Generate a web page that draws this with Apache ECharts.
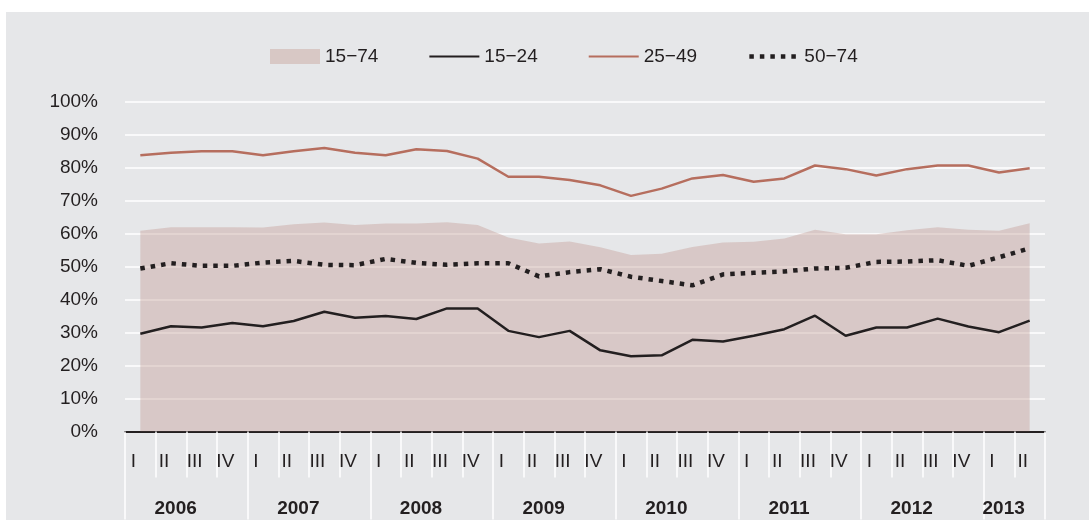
<!DOCTYPE html>
<html>
<head>
<meta charset="utf-8">
<script src="https://cdn.jsdelivr.net/npm/echarts@6/dist/echarts.min.js"></script>
<style>
  html, body { margin: 0; padding: 0; background: #ffffff; }
  #panel { position: absolute; left: 6px; top: 12px; width: 1083px; height: 508px; background: #e6e7e9; }
  #chart { width: 1083px; height: 508px; }
</style>
</head>
<body>
<div id="panel"><div id="chart"></div></div>
<script>
const quarters = [
  'I','II','III','IV', 'I','II','III','IV', 'I','II','III','IV', 'I','II','III','IV',
  'I','II','III','IV', 'I','II','III','IV', 'I','II','III','IV', 'I','II'
]
const years = [
  '2006','2006','2006','2006', '2007','2007','2007','2007', '2008','2008','2008','2008',
  '2009','2009','2009','2009', '2010','2010','2010','2010', '2011','2011','2011','2011',
  '2012','2012','2012','2012', '2013','2013'
]
// index of the category under which each year label sits
const yearLabelAt = [2, 6, 10, 14, 18, 22, 26, 29]
const yTicks = [0, 10, 20, 30, 40, 50, 60, 70, 80, 90, 100]

const age1574 = [60.8, 61.9, 61.9, 61.9, 61.8, 62.8, 63.3, 62.6, 63.0, 63.0,
                 63.4, 62.6, 58.8, 57.0, 57.6, 55.8, 53.5, 53.9, 55.9, 57.3,
                 57.5, 58.5, 61.1, 59.8, 59.8, 61.0, 61.9, 61.1, 60.8, 63.1]
const age1524 = [29.6, 31.9, 31.5, 32.9, 31.9, 33.5, 36.3, 34.5, 35.0, 34.1,
                 37.3, 37.3, 30.5, 28.6, 30.5, 24.6, 22.8, 23.1, 27.8, 27.3,
                 29.0, 31.0, 35.1, 29.0, 31.5, 31.5, 34.2, 31.8, 30.1, 33.6]
const age2549 = [83.7, 84.5, 84.9, 84.9, 83.7, 84.9, 85.9, 84.5, 83.7, 85.5,
                 85.0, 82.7, 77.2, 77.2, 76.2, 74.6, 71.4, 73.6, 76.7, 77.7,
                 75.7, 76.7, 80.6, 79.5, 77.6, 79.5, 80.6, 80.6, 78.5, 79.8]
const age5074 = [49.4, 51.0, 50.2, 50.2, 51.2, 51.7, 50.5, 50.4, 52.3, 51.1,
                 50.5, 51.0, 51.0, 47.0, 48.3, 49.2, 46.9, 45.6, 44.3, 47.6,
                 48.1, 48.5, 49.4, 49.6, 51.4, 51.5, 51.9, 50.2, 52.8, 55.5]

const font = "'Liberation Sans', Arial, Helvetica, sans-serif"
const ink = '#231f20'
const areaSwatch = '#d8c8c5'
const brown = '#b66e5e'
const dots = { color: ink, width: 4.5, type: [4.5, 6], cap: 'butt' }

const chart = echarts.init(document.getElementById('chart'), null, { renderer: 'canvas' })

const option = {
  backgroundColor: 'transparent',
  animation: false,
  textStyle: { fontFamily: font },
  grid: { left: 119, right: 44, top: 89.5, bottom: 88.5 },
  legend: {
    left: 259, top: 30,
    itemWidth: 50, itemHeight: 15, itemGap: 50,
    textStyle: { color: ink, fontSize: 19, fontFamily: font },
    itemStyle: { opacity: 0 },
    data: [
      { name: '15−74', icon: 'rect', itemStyle: { color: areaSwatch, opacity: 1 } },
      { name: '15−24' },
      { name: '25−49' },
      { name: '50−74', lineStyle: dots }
    ]
  },
  xAxis: [
    {
      type: 'category', data: quarters, position: 'bottom', boundaryGap: true,
      axisLine: { show: true, onZero: false, lineStyle: { color: ink, width: 2 } },
      axisTick: { show: true, length: 46, lineStyle: { color: '#ffffff', width: 1.5 } },
      axisLabel: {
        interval: 0, color: ink, fontSize: 19, fontFamily: font,
        margin: 21, padding: [0, 14, 0, 0]
      },
      splitLine: { show: false }
    },
    {
      type: 'category', data: years, position: 'bottom', boundaryGap: true,
      axisLine: { show: false, onZero: false },
      axisTick: {
        show: true, length: 88,
        interval: (i) => i % 4 === 0,
        lineStyle: { color: '#ffffff', width: 1.5 }
      },
      axisLabel: {
        interval: (i) => yearLabelAt.includes(i),
        color: ink, fontSize: 19, fontWeight: 'bold', fontFamily: font,
        margin: 68, padding: [0, 52, 0, 0]
      },
      splitLine: { show: false }
    }
  ],
  yAxis: {
    type: 'value', min: yTicks[0], max: yTicks[yTicks.length - 1], interval: 10,
    axisLine: { show: false },
    axisTick: { show: false },
    axisLabel: { color: ink, fontSize: 19, fontFamily: font, margin: 27, formatter: '{value}%' },
    splitLine: { show: true, lineStyle: { color: '#ffffff', width: 1.5 } }
  },
  series: [
    {
      name: '15−74', type: 'line', data: age1574,
      symbol: 'none', silent: true,
      itemStyle: { color: areaSwatch },
      lineStyle: { width: 0 },
      areaStyle: { color: 'rgb(196,155,148)', opacity: 0.4 },
      z: 1
    },
    {
      name: '15−24', type: 'line', data: age1524,
      symbol: 'none',
      itemStyle: { color: ink },
      lineStyle: { color: ink, width: 2.5 },
      z: 3
    },
    {
      name: '25−49', type: 'line', data: age2549,
      symbol: 'none',
      itemStyle: { color: brown },
      lineStyle: { color: brown, width: 2.5 },
      z: 3
    },
    {
      name: '50−74', type: 'line', data: age5074,
      symbol: 'none',
      itemStyle: { color: ink },
      lineStyle: dots,
      z: 3
    }
  ]
}

chart.setOption(option)
</script>
</body>
</html>
